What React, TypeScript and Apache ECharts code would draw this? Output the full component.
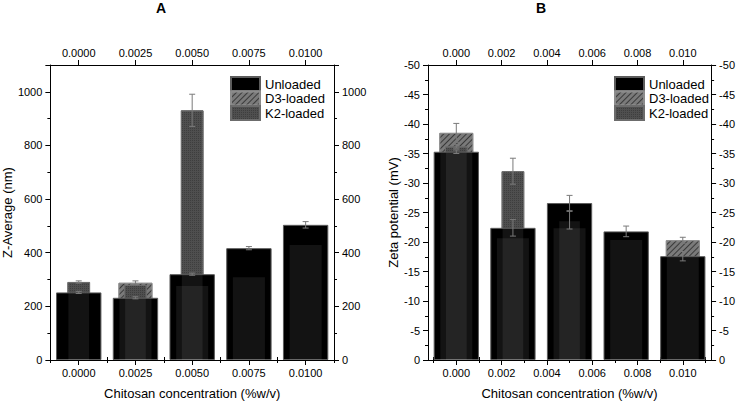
import React, { useEffect, useRef } from 'react';
import * as echarts from 'echarts';

// ---------- data ----------
const concentrations = ['0.0000', '0.0025', '0.0050', '0.0075', '0.0100'];
const seriesNames = ['Unloaded', 'D3-loaded', 'K2-loaded'];

// Panel A: Z-Average (nm)
const zUnloaded = [252, 232, 320, 417, 504];
const zUnloadedErr = [4, 4, 4, 6, 12];
const zD3 = [null, 288, 280, 312, 433];
const zD3Err = [null, 7, null, null, null];
const zK2 = [291, 280, 931, null, null];
const zK2Err = [4, null, 60, null, null];

// Panel B: Zeta potential (mV)
const zetaUnloaded = [-35.3, -22.4, -26.6, -21.8, -17.6];
const zetaUnloadedErr = [0.3, 1.4, 1.3, 0.9, 0.8];
const zetaD3 = [-38.5, -20.8, -22.5, -20.5, -20.3];
const zetaD3Err = [1.6, null, null, null, 0.5];
const zetaK2 = [-36.2, -32.0, -23.7, null, null];
const zetaK2Err = [0.3, 2.2, 1.5, null, null];

const zetaTickValues = [0, 0.002, 0.004, 0.006, 0.008, 0.01];
const zetaMinorTickValues = [-0.001, 0.001, 0.003, 0.005, 0.007, 0.009, 0.011];

// ---------- styles ----------
const FONT = '"Liberation Sans", Arial, Helvetica, sans-serif';
const BLACK = '#000000';

const styleUnloaded = { color: '#000000', borderColor: '#5c5c5c', borderWidth: 1 };
const styleD3 = {
  color: '#7a7a7a',
  borderColor: '#8c8c8c',
  borderWidth: 1,
  decal: {
    symbol: 'rect',
    symbolSize: 1,
    color: 'rgba(30,30,30,0.7)',
    dashArrayX: [1, 0],
    dashArrayY: [1, 3],
    rotation: -Math.PI / 4,
  },
};
const styleK2 = {
  color: '#4f4f4f',
  borderColor: '#6c6c6c',
  borderWidth: 1,
  decal: {
    symbol: 'rect',
    symbolSize: 1,
    color: 'rgba(0,0,0,0.22)',
    dashArrayX: [1, 1],
    dashArrayY: [1, 1],
    rotation: 0,
  },
};

function barSeries(name: string, data: (number | null)[], width: string, style: any, xAxisIndex: number, yAxisIndex: number, z: number) {
  return {
    type: 'bar',
    name,
    data: data.map((v) => (v == null ? '-' : v)),
    barWidth: width,
    xAxisIndex,
    yAxisIndex,
    z,
    itemStyle: style,
  };
}

function overlaySeries(values: (number | null)[], front: number[], frac: number, xAxisIndex: number, yAxisIndex: number) {
  const data: any[] = [];
  values.forEach((v, i) => {
    if (v == null) return;
    const u = front[i];
    const m = Math.abs(v) < Math.abs(u) ? v : u;
    data.push([i, m]);
  });
  return {
    type: 'custom',
    name: '_overlay',
    xAxisIndex,
    yAxisIndex,
    z: 5,
    silent: true,
    data,
    encode: { x: 0, y: 1 },
    renderItem: (params: any, api: any) => {
      const i = api.value(0);
      const m = api.value(1);
      const p0 = api.coord([i, 0]);
      const p1 = api.coord([i, m]);
      const w = api.size([1, 0])[0] * frac;
      const y = Math.min(p0[1], p1[1]);
      const h = Math.abs(p0[1] - p1[1]);
      return {
        type: 'rect',
        shape: { x: p0[0] - w / 2 + 1, y: y + 1, width: w - 2, height: Math.max(h - 1, 0) },
        style: { fill: 'rgba(255,255,255,0.075)' },
      };
    },
  };
}

function errorSeries(values: (number | null)[], errs: (number | null)[], xAxisIndex: number, yAxisIndex: number) {
  const data: any[] = [];
  values.forEach((v, i) => {
    const e = errs[i];
    if (v == null || e == null) return;
    data.push([i, v, e]);
  });
  return {
    type: 'custom',
    name: '_err',
    xAxisIndex,
    yAxisIndex,
    z: 6,
    silent: true,
    data,
    encode: { x: 0, y: 1 },
    renderItem: (params: any, api: any) => {
      const i = api.value(0);
      const v = api.value(1);
      const e = api.value(2);
      const top = api.coord([i, v - e]);
      const bot = api.coord([i, v + e]);
      const cap = 3;
      const st = { stroke: '#7a7a7a', lineWidth: 1 };
      return {
        type: 'group',
        children: [
          { type: 'line', shape: { x1: top[0], y1: top[1], x2: bot[0], y2: bot[1] }, style: st },
          { type: 'line', shape: { x1: top[0] - cap, y1: top[1], x2: top[0] + cap, y2: top[1] }, style: st },
          { type: 'line', shape: { x1: bot[0] - cap, y1: bot[1], x2: bot[0] + cap, y2: bot[1] }, style: st },
        ],
      };
    },
  };
}

const axisLine = { show: true, onZero: false, lineStyle: { color: BLACK, width: 1 } };
const labelStyle = { color: BLACK, fontSize: 11, fontFamily: FONT };
const nameStyle = { color: BLACK, fontSize: 13, fontFamily: FONT };

function hiddenCat(gridIndex: number) {
  return {
    type: 'category', gridIndex, data: concentrations, show: false,
    axisLabel: { show: false }, axisTick: { show: false }, axisLine: { show: false },
  };
}

function buildOption() {
  const xAxis: any[] = [
    // Panel A (0-6)
    {
      type: 'category', gridIndex: 0, position: 'bottom', data: concentrations,
      axisLine, axisTick: { show: true, alignWithLabel: true, length: 5, lineStyle: { color: BLACK } },
      axisLabel: { ...labelStyle, margin: 7 },
      name: 'Chitosan concentration (%w/v)', nameLocation: 'middle', nameGap: 27, nameTextStyle: nameStyle,
    },
    {
      type: 'category', gridIndex: 0, position: 'top', data: concentrations,
      axisLine, axisTick: { show: true, alignWithLabel: true, length: 5, lineStyle: { color: BLACK } },
      axisLabel: { ...labelStyle, margin: 7 },
    },
    {
      type: 'category', gridIndex: 0, position: 'bottom', data: concentrations,
      axisLine: { show: false }, axisLabel: { show: false },
      axisTick: { show: true, alignWithLabel: false, length: 3, lineStyle: { color: BLACK } },
    },
    {
      type: 'category', gridIndex: 0, position: 'top', data: concentrations,
      axisLine: { show: false }, axisLabel: { show: false },
      axisTick: { show: true, alignWithLabel: false, length: 3, lineStyle: { color: BLACK } },
    },
    hiddenCat(0), hiddenCat(0), hiddenCat(0),
    // Panel B (7-13)
    {
      type: 'value', gridIndex: 1, position: 'bottom', min: -0.00125, max: 0.01125,
      axisLine, splitLine: { show: false },
      axisTick: { show: true, length: 5, customValues: zetaTickValues, lineStyle: { color: BLACK } },
      axisLabel: { ...labelStyle, margin: 7, customValues: zetaTickValues, formatter: (v: number) => v.toFixed(3) },
      name: 'Chitosan concentration (%w/v)', nameLocation: 'middle', nameGap: 27, nameTextStyle: nameStyle,
    },
    {
      type: 'value', gridIndex: 1, position: 'top', min: -0.00125, max: 0.01125,
      axisLine, splitLine: { show: false },
      axisTick: { show: true, length: 5, customValues: zetaTickValues, lineStyle: { color: BLACK } },
      axisLabel: { ...labelStyle, margin: 7, customValues: zetaTickValues, formatter: (v: number) => v.toFixed(3) },
    },
    {
      type: 'value', gridIndex: 1, position: 'bottom', min: -0.00125, max: 0.01125,
      axisLine: { show: false }, splitLine: { show: false }, axisLabel: { show: false, customValues: zetaMinorTickValues },
      axisTick: { show: true, length: 3, customValues: zetaMinorTickValues, lineStyle: { color: BLACK } },
    },
    {
      type: 'value', gridIndex: 1, position: 'top', min: -0.00125, max: 0.01125,
      axisLine: { show: false }, splitLine: { show: false }, axisLabel: { show: false, customValues: zetaMinorTickValues },
      axisTick: { show: true, length: 3, customValues: zetaMinorTickValues, lineStyle: { color: BLACK } },
    },
    hiddenCat(1), hiddenCat(1), hiddenCat(1),
  ];

  const yCommonA = {
    type: 'value', gridIndex: 0, min: 0, max: 1100, interval: 200,
    axisLine, splitLine: { show: false }, minorSplitLine: { show: false },
    axisTick: { show: true, length: 5, lineStyle: { color: BLACK } },
    minorTick: { show: true, splitNumber: 2, length: 3, lineStyle: { color: BLACK } },
    axisLabel: { ...labelStyle, showMaxLabel: false, formatter: (v: number) => String(v) },
  };
  const yCommonB = {
    type: 'value', gridIndex: 1, min: -50, max: 0, interval: 5, inverse: true,
    axisLine, splitLine: { show: false }, minorSplitLine: { show: false },
    axisTick: { show: true, length: 5, lineStyle: { color: BLACK } },
    minorTick: { show: true, splitNumber: 2, length: 3, lineStyle: { color: BLACK } },
    axisLabel: { ...labelStyle, formatter: (v: number) => String(v) },
  };
  const yAxis: any[] = [
    { ...yCommonA, position: 'left', name: 'Z-Average (nm)', nameLocation: 'middle', nameGap: 27, nameTextStyle: nameStyle },
    { ...yCommonA, position: 'right', axisLabel: { ...yCommonA.axisLabel, showMinLabel: false } },
    { ...yCommonB, position: 'left', name: 'Zeta potential (mV)', nameLocation: 'middle', nameGap: 27, nameTextStyle: nameStyle },
    { ...yCommonB, position: 'right', axisLabel: { ...yCommonB.axisLabel, showMaxLabel: false } },
  ];

  const series: any[] = [
    // Panel A
    barSeries(seriesNames[1], zD3, '60%', styleD3, 5, 0, 2),
    barSeries(seriesNames[2], zK2, '40%', styleK2, 6, 0, 3),
    barSeries(seriesNames[0], zUnloaded, '80%', styleUnloaded, 4, 0, 4),
    overlaySeries(zD3, zUnloaded, 0.6, 5, 0),
    overlaySeries(zK2, zUnloaded, 0.4, 6, 0),
    errorSeries(zUnloaded, zUnloadedErr, 4, 0),
    errorSeries(zD3, zD3Err, 5, 0),
    errorSeries(zK2, zK2Err, 6, 0),
    // Panel B
    barSeries(seriesNames[1], zetaD3, '60%', styleD3, 12, 2, 2),
    barSeries(seriesNames[2], zetaK2, '40%', styleK2, 13, 2, 3),
    barSeries(seriesNames[0], zetaUnloaded, '80%', styleUnloaded, 11, 2, 4),
    overlaySeries(zetaD3, zetaUnloaded, 0.6, 12, 2),
    overlaySeries(zetaK2, zetaUnloaded, 0.4, 13, 2),
    errorSeries(zetaUnloaded, zetaUnloadedErr, 11, 2),
    errorSeries(zetaD3, zetaD3Err, 12, 2),
    errorSeries(zetaK2, zetaK2Err, 13, 2),
  ];

  const legendCommon = {
    data: seriesNames,
    orient: 'vertical',
    top: 76,
    itemWidth: 29,
    itemHeight: 14,
    itemGap: -1.5,
    icon: 'rect',
    padding: 0,
    selectedMode: false,
    textStyle: { color: BLACK, fontSize: 13, fontFamily: FONT },
  };

  return {
    animation: false,
    backgroundColor: '#ffffff',
    textStyle: { fontFamily: FONT, color: BLACK },
    title: [
      { text: 'A', left: 156, top: 1, padding: 0, textStyle: { fontSize: 14, fontWeight: 'bold', color: BLACK, fontFamily: FONT } },
      { text: 'B', left: 536, top: 1, padding: 0, textStyle: { fontSize: 14, fontWeight: 'bold', color: BLACK, fontFamily: FONT } },
    ],
    legend: [
      { ...legendCommon, left: 230 },
      { ...legendCommon, left: 614 },
    ],
    grid: [
      { left: 48, top: 65, width: 286, height: 299 },
      { left: 428, top: 65, width: 284, height: 299 },
    ],
    xAxis,
    yAxis,
    series,
  };
}

export default function App() {
  const ref = useRef<HTMLDivElement>(null);
  useEffect(() => {
    if (!ref.current) return;
    const chart = echarts.init(ref.current, null, { renderer: 'svg' });
    chart.setOption(buildOption() as any);
    // right-axis zero labels, placed through the axes' own scales
    const texts: any[] = [];
    [
      { yAxisIndex: 1, xAxisIndex: 0 },
      { yAxisIndex: 3, xAxisIndex: 7 },
    ].forEach(({ yAxisIndex, xAxisIndex }) => {
      const y = chart.convertToPixel({ yAxisIndex }, 0) as number;
      const model: any = (chart as any).getModel();
      const ax = model.getComponent('xAxis', xAxisIndex);
      const rect = ax.axis.grid.getRect();
      texts.push({
        type: 'text',
        x: rect.x + rect.width + 8,
        y,
        style: { text: '0', fill: BLACK, font: `11px ${FONT}`, align: 'left', verticalAlign: 'middle' },
      });
    });
    chart.setOption({ graphic: texts });
    return () => chart.dispose();
  }, []);
  return (
    <div
      ref={ref}
      style={{ position: 'fixed', left: 0, top: 0, width: 738, height: 405, background: '#fff' }}
    />
  );
}
